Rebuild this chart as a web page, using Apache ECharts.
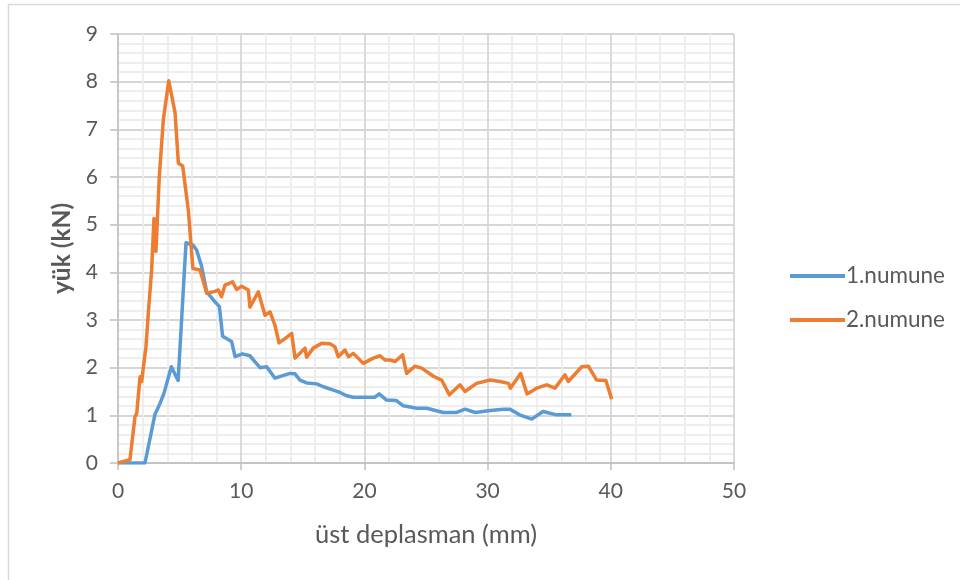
<!DOCTYPE html>
<html>
<head>
<meta charset="utf-8">
<script src="https://cdn.jsdelivr.net/npm/echarts@6/dist/echarts.min.js"></script>
<style>
  html, body { margin: 0; padding: 0; background: #ffffff; }
  #chart { width: 960px; height: 580px; }
</style>
</head>
<body>
<div id="chart"></div>
<script>
// Load vs. top displacement for two specimens
const seriesNames = ['1.numune', '2.numune'];

// 1.numune: displacement (mm) and load (kN)
const disp1 = [0, 2.19, 3.0, 3.41, 3.73, 4.33, 4.88, 5.52, 6.1, 6.38, 6.79, 7.2, 7.74, 8.23, 8.49,
  9.22, 9.5, 10.1, 10.7, 11.53, 12.07, 12.74, 13.96, 14.37, 14.77, 15.31, 16.13, 16.67, 17.48,
  18.02, 18.56, 19.1, 19.91, 20.86, 21.2, 21.8, 22.6, 23.16, 24.25, 25.06, 26.4, 27.5, 28.17,
  29.0, 30.2, 31.3, 31.8, 32.6, 33.58, 34.5, 35.6, 36.8];
const load1 = [0, 0, 1.02, 1.25, 1.46, 2.02, 1.73, 4.62, 4.57, 4.47, 4.12, 3.59, 3.42, 3.28, 2.66,
  2.55, 2.23, 2.29, 2.25, 2.0, 2.02, 1.78, 1.88, 1.87, 1.74, 1.68, 1.66, 1.60, 1.53,
  1.48, 1.41, 1.38, 1.38, 1.38, 1.45, 1.32, 1.31, 1.2, 1.15, 1.15, 1.06, 1.06, 1.13,
  1.06, 1.1, 1.13, 1.13, 1.01, 0.92, 1.08, 1.01, 1.01];

// 2.numune: displacement (mm) and load (kN)
const disp2 = [0, 0.97, 1.38, 1.52, 1.79, 1.92, 2.27, 2.46, 2.73, 2.92, 3.08, 3.35, 3.68, 4.12,
  4.63, 4.9, 5.25, 5.71, 6.08, 6.66, 7.2, 7.87, 8.15, 8.4, 8.68, 9.3, 9.63, 10.04, 10.58, 10.71,
  11.39, 11.93, 12.34, 12.74, 13.07, 13.5, 14.1, 14.37, 15.18, 15.31, 15.85, 16.53, 17.2, 17.6,
  17.88, 18.42, 18.7, 19.1, 19.91, 20.72, 21.27, 21.67, 22.08, 22.5, 23.1, 23.43, 24.1, 24.65,
  25.6, 26.27, 26.9, 27.76, 28.17, 29.1, 30.2, 31.0, 31.7, 31.85, 32.68, 33.2, 33.98, 34.8,
  35.47, 36.28, 36.55, 37.64, 38.18, 38.85, 39.6, 40.07];
const load2 = [0, 0.07, 0.97, 1.04, 1.81, 1.71, 2.44, 3.14, 4.05, 5.13, 4.44, 6.0, 7.2, 8.02,
  7.35, 6.29, 6.23, 5.3, 4.08, 4.05, 3.56, 3.6, 3.63, 3.49, 3.73, 3.8, 3.64, 3.71, 3.63, 3.27,
  3.59, 3.10, 3.17, 2.89, 2.52, 2.6, 2.72, 2.2, 2.41, 2.22, 2.41, 2.51, 2.5, 2.44,
  2.23, 2.37, 2.23, 2.3, 2.09, 2.2, 2.25, 2.16, 2.16, 2.13, 2.27, 1.88, 2.03, 1.99,
  1.82, 1.74, 1.43, 1.64, 1.50, 1.67, 1.74, 1.71, 1.67, 1.57, 1.88, 1.45, 1.57, 1.64,
  1.57, 1.85, 1.71, 2.02, 2.03, 1.74, 1.73, 1.34];

// Axis ranges and tick values
const xTicks = [0, 10, 20, 30, 40, 50];
const yTicks = [0, 1, 2, 3, 4, 5, 6, 7, 8, 9];

const pairs = (xs, ys) => xs.map((x, i) => [x, ys[i]]);

const textColor = '#595959';
const fontFamily = 'Lato, Carlito, "Liberation Sans", sans-serif';

const chart = echarts.init(document.getElementById('chart'), null, { renderer: 'canvas' });

chart.setOption({
  animation: false,
  backgroundColor: '#ffffff',
  textStyle: { fontFamily: fontFamily },
  graphic: [{
    type: 'rect',
    shape: { x: 8.5, y: 4.5, width: 1000, height: 1000 },
    style: { fill: 'none', stroke: '#d9d9d9', lineWidth: 1.5 },
    silent: true,
    z: -1
  }],
  grid: { left: 118, top: 34, width: 616, height: 429, containLabel: false },
  legend: {
    orient: 'vertical',
    left: 785,
    top: 259,
    itemWidth: 55,
    itemHeight: 14,
    itemGap: 20,
    icon: 'path://M0,5 L55,5 L55,9 L0,9 Z',
    textStyle: { color: textColor, fontSize: 22.5, fontFamily: fontFamily, lineHeight: 24, padding: [0, 0, 0, -4] },
    data: seriesNames
  },
  xAxis: {
    type: 'value',
    min: xTicks[0],
    max: xTicks[xTicks.length - 1],
    interval: 10,
    name: 'üst deplasman (mm)',
    nameLocation: 'middle',
    nameGap: 59,
    nameTextStyle: { color: textColor, fontSize: 25.5, fontFamily: fontFamily },
    axisLine: { show: true, lineStyle: { color: '#bfbfbf', width: 1.5 } },
    axisTick: { show: true, length: 7, lineStyle: { color: '#bfbfbf', width: 1.5 } },
    axisLabel: { color: textColor, fontSize: 21, margin: 18, fontFamily: fontFamily },
    splitLine: { show: true, lineStyle: { color: '#d6d6d6', width: 1.8 } },
    minorTick: { show: false, splitNumber: 5 },
    minorSplitLine: { show: true, lineStyle: { color: '#ededed', width: 1.8 } }
  },
  yAxis: {
    type: 'value',
    min: yTicks[0],
    max: yTicks[yTicks.length - 1],
    interval: 1,
    name: 'yük (kN)',
    nameLocation: 'middle',
    nameGap: 43,
    nameTextStyle: { color: textColor, fontSize: 24.5, fontWeight: 'bold', fontFamily: fontFamily },
    axisLine: { show: true, lineStyle: { color: '#bfbfbf', width: 1.5 } },
    axisTick: { show: true, length: 8, lineStyle: { color: '#bfbfbf', width: 1.5 } },
    axisLabel: { color: textColor, fontSize: 21, margin: 20, fontFamily: fontFamily },
    splitLine: { show: true, lineStyle: { color: '#d6d6d6', width: 1.8 } },
    minorTick: { show: false, splitNumber: 5 },
    minorSplitLine: { show: true, lineStyle: { color: '#ededed', width: 1.8 } }
  },
  series: [
    {
      name: seriesNames[0],
      type: 'line',
      data: pairs(disp1, load1),
      symbol: 'none',
      color: '#5B9BD5',
      lineStyle: { width: 3.5, color: '#5B9BD5', join: 'round' },
      z: 3
    },
    {
      name: seriesNames[1],
      type: 'line',
      data: pairs(disp2, load2),
      symbol: 'none',
      color: '#ED7D31',
      lineStyle: { width: 3.5, color: '#ED7D31', join: 'round' },
      z: 4
    }
  ]
});
</script>
</body>
</html>
